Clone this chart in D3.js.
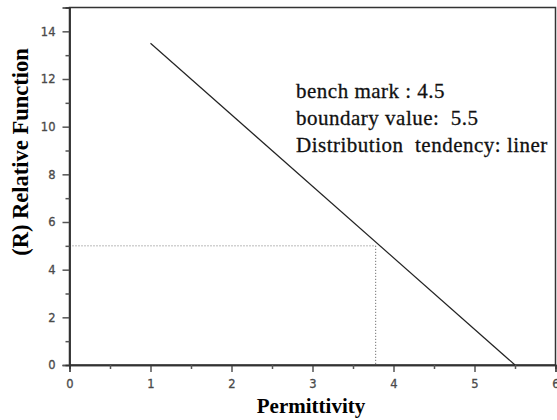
<!DOCTYPE html>
<html>
<head>
<meta charset="utf-8">
<style>
  body { margin: 0; background: #fff; }
  .tick text { font-family: "DejaVu Sans", Verdana, sans-serif; font-size: 11.5px; fill: #4a4a4a; stroke: #4a4a4a; stroke-width: 0.3px; }
</style>
</head>
<body>
<script src="https://cdn.jsdelivr.net/npm/d3@7"></script>
<script>
// data
var lineX = [1, 5.5];
var lineY = [13.5, 0];
var markX = [3.78];
var markY = [5];
var xTicks = [0, 1, 2, 3, 4, 5, 6];
var yTicks = [0, 2, 4, 6, 8, 10, 12, 14];
var notes = ["bench mark : 4.5", "boundary value:  5.5", "Distribution  tendency: liner"];

var width = 557, height = 420;
var mLeft = 69.5, mRight = 555.5, mTop = 7.5, mBottom = 365;

var svg = d3.select("body").append("svg")
    .attr("width", width)
    .attr("height", height);

var x = d3.scaleLinear().domain([0, 6]).range([mLeft, mRight]);
var y = d3.scaleLinear().domain([0, 15]).range([mBottom, mTop]);

// frame
svg.append("rect")
    .attr("x", mLeft).attr("y", mTop)
    .attr("width", mRight - mLeft).attr("height", mBottom - mTop)
    .attr("fill", "none").attr("stroke", "#333").attr("stroke-width", 1.5);

// minor ticks
var xMinor = d3.range(0.5, 6, 1);
var yMinor = d3.range(1, 15, 2);

svg.append("g").attr("transform", "translate(0," + mBottom + ")")
    .call(d3.axisBottom(x).tickValues(xTicks).tickSize(7).tickPadding(8).tickFormat(d3.format("d")));
svg.append("g").attr("transform", "translate(0," + mBottom + ")")
    .call(d3.axisBottom(x).tickValues(xMinor).tickSize(4).tickFormat(""));

svg.append("g").attr("transform", "translate(" + mLeft + ",0)")
    .call(d3.axisLeft(y).tickValues(yTicks).tickSize(7).tickPadding(7).tickFormat(d3.format("d")));
svg.append("g").attr("transform", "translate(" + mLeft + ",0)")
    .call(d3.axisLeft(y).tickValues(yMinor).tickSize(4).tickFormat(""));

svg.selectAll(".domain").attr("stroke", "#333").attr("stroke-width", 1.5);
svg.selectAll(".tick line").attr("stroke", "#555").attr("stroke-width", 1.5);

// dotted guides
svg.append("line")
    .attr("x1", x(0) + 3).attr("x2", x(markX[0]))
    .attr("y1", y(markY[0])).attr("y2", y(markY[0]))
    .attr("stroke", "#777").attr("stroke-width", 1)
    .attr("stroke-dasharray", "1,2");
svg.append("line")
    .attr("x1", x(markX[0])).attr("x2", x(markX[0]))
    .attr("y1", y(markY[0])).attr("y2", y(0))
    .attr("stroke", "#555").attr("stroke-width", 1)
    .attr("stroke-dasharray", "1,2");

// main line
var pts = lineX.map(function (d, i) { return [d, lineY[i]]; });
svg.append("path")
    .datum(pts)
    .attr("fill", "none")
    .attr("stroke", "#222")
    .attr("stroke-width", 1.2)
    .attr("d", d3.line().x(function (d) { return x(d[0]); }).y(function (d) { return y(d[1]); }));

// annotation
svg.selectAll(".note")
    .data(notes)
    .enter().append("text")
    .attr("class", "note")
    .attr("x", 296)
    .attr("y", function (d, i) { return 98 + i * 27; })
    .attr("font-family", "'Liberation Serif', 'Times New Roman', serif")
    .attr("font-size", 21)
    .attr("letter-spacing", 0.5)
    .attr("fill", "#111")
    .attr("stroke", "#111")
    .attr("stroke-width", 0.3)
    .style("white-space", "pre")
    .text(function (d) { return d; });

// axis labels
svg.append("text")
    .attr("x", 311).attr("y", 413)
    .attr("text-anchor", "middle")
    .attr("font-family", "'Liberation Serif', 'Times New Roman', serif")
    .attr("font-weight", "bold")
    .attr("font-size", 21)
    .text("Permittivity");

svg.append("text")
    .attr("transform", "translate(28,152) rotate(-90)")
    .attr("text-anchor", "middle")
    .attr("font-family", "'Liberation Serif', 'Times New Roman', serif")
    .attr("font-weight", "bold")
    .attr("font-size", 22.5)
    .text("(R) Relative Function");
</script>
</body>
</html>
